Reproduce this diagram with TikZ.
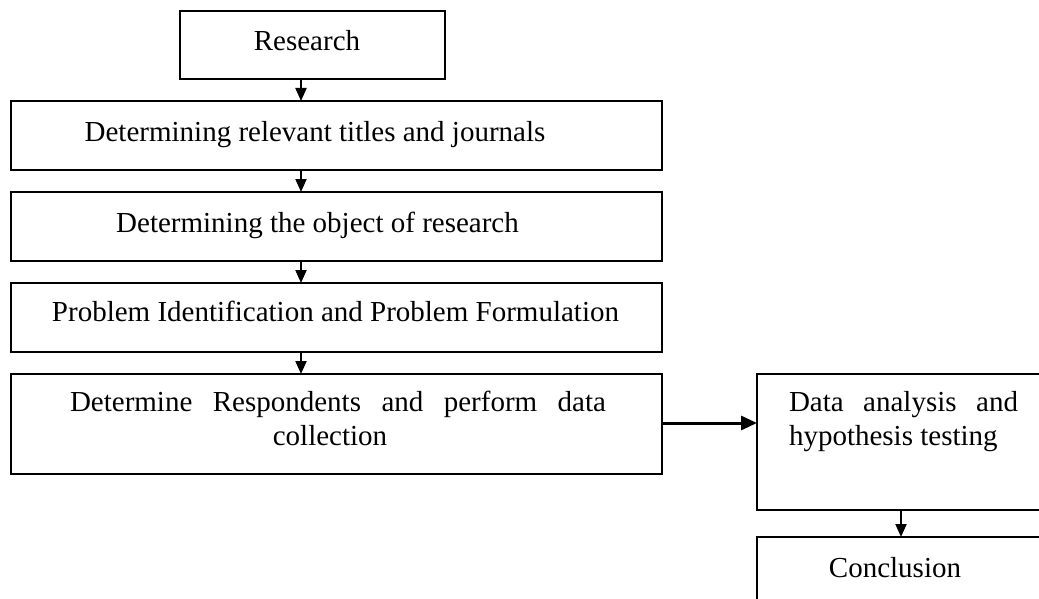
\documentclass[tikz,border=0pt]{standalone}
\usepackage{fontspec}
\setmainfont{Liberation Serif}
\usetikzlibrary{arrows.meta}
\begin{document}
\begin{tikzpicture}[x=1pt,y=-1pt,
  box/.style={draw, line width=2pt, inner sep=0pt, outer sep=0pt, anchor=north west},
  txt/.style={inner sep=0pt, outer sep=0pt, font=\fontsize{29}{34}\selectfont},
  varr/.style={line width=2pt, -{Triangle[length=13pt,width=11pt]}},
  harr/.style={line width=3pt, -{Triangle[length=16pt,width=14pt]}}]
\useasboundingbox (0,0) rectangle (1039,599);
% boxes
\node[box, minimum width=265pt, minimum height=68.5pt] (research) at (180,11) {};
\node[box, minimum width=651pt, minimum height=69pt] (b2) at (11,101) {};
\node[box, minimum width=651pt, minimum height=69pt] (b3) at (11,192) {};
\node[box, minimum width=651pt, minimum height=69pt] (b4) at (11,283) {};
\node[box, minimum width=651pt, minimum height=100pt] (b5) at (11,374) {};
\node[box, minimum width=300pt, minimum height=136pt] (b6) at (757,374) {};
\node[box, minimum width=300pt, minimum height=80pt] (b7) at (757,537) {};
% texts
\node[txt, anchor=base] (t1) at (307,51) {Research};
\node[txt, anchor=base] (t2) at (315,142) {Determining relevant titles and journals};
\node[txt, anchor=base] (t3) at (317.5,232) {Determining the object of research};
\node[txt, anchor=base] (t4) at (335.5,321) {Problem Identification and Problem Formulation};
\node[txt, anchor=base west] (t5a) at (70,411) {\makebox[536pt][s]{Determine Respondents and perform data}};
\node[txt, anchor=base] (t5b) at (330,445) {collection};
\node[txt, anchor=base west] (t6a) at (789,411) {\makebox[229pt][s]{Data analysis and}};
\node[txt, anchor=base west] (t6b) at (789,445) {hypothesis testing};
\node[txt, anchor=base] (t7) at (895,577) {Conclusion};
% connectors
\coordinate (ax) at (301,0);
\coordinate (bx) at (901,0);
\coordinate (hy) at (0,423);
\draw[varr] (research.south -| ax) -- (b2.north -| ax);
\draw[varr] (b2.south -| ax) -- (b3.north -| ax);
\draw[varr] (b3.south -| ax) -- (b4.north -| ax);
\draw[varr] (b4.south -| ax) -- (b5.north -| ax);
\draw[harr] (b5.east |- hy) -- (b6.west |- hy);
\draw[varr] (b6.south -| bx) -- (b7.north -| bx);
\end{tikzpicture}
\end{document}
